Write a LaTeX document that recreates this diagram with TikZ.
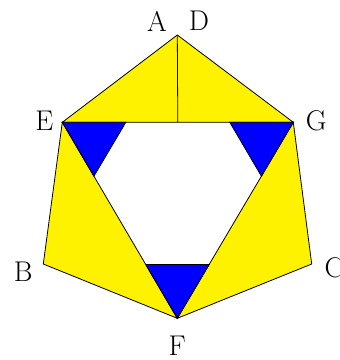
\documentclass[tikz,border=0pt]{standalone}
\usepackage{tikz}
\usetikzlibrary{calc}

\begin{document}
\begin{tikzpicture}[x=1pt,y=-1pt,line width=0.8pt,
    lbl/.style={inner sep=0pt,font=\LARGE,scale=1.65}]
    \useasboundingbox (0,0) rectangle (340,360);
    \coordinate (A) at (177.3,35);
    \coordinate (E) at (62.3,122.3);
    \coordinate (G) at (293.3,122.3);
    \coordinate (B) at (43.3,264);
    \coordinate (C) at (311.7,264);
    \coordinate (F) at (177.3,318.3);
    \coordinate (M) at ($(E)!0.5!(G)$);
    % corners cut from the inner triangle
    \coordinate (E1) at ($(E)!0.275!(G)$); \coordinate (E2) at ($(E)!0.275!(F)$);
    \coordinate (G1) at ($(G)!0.275!(E)$); \coordinate (G2) at ($(G)!0.275!(F)$);
    \coordinate (F1) at ($(F)!0.275!(E)$); \coordinate (F2) at ($(F)!0.275!(G)$);
    \filldraw[fill=yellow] (A) -- (E) -- (G) -- cycle;
    \filldraw[fill=yellow] (E) -- (B) -- (F) -- cycle;
    \filldraw[fill=yellow] (G) -- (C) -- (F) -- cycle;
    \draw (A) -- (M);
    \foreach \p in {E,G,F} {\filldraw[fill=blue] (\p) -- (\p1) -- (\p2) -- cycle;}
    \node[lbl] (lA) at ($(A)+(-20.3,-14)$) {A}; \node[lbl] (lD) at ($(A)+(21.7,-14)$) {D};
    \node[lbl] (lE) at ($(E)+(-18,-1.3)$) {E}; \node[lbl] (lG) at ($(G)+(23,-2)$) {G};
    \node[lbl] (lB) at ($(B)+(-20,8)$) {B}; \node[lbl] (lC) at ($(C)+(22.5,3.5)$) {C};
    \node[lbl] (lF) at ($(F)+(0,27)$) {F};
\end{tikzpicture}
\end{document}
